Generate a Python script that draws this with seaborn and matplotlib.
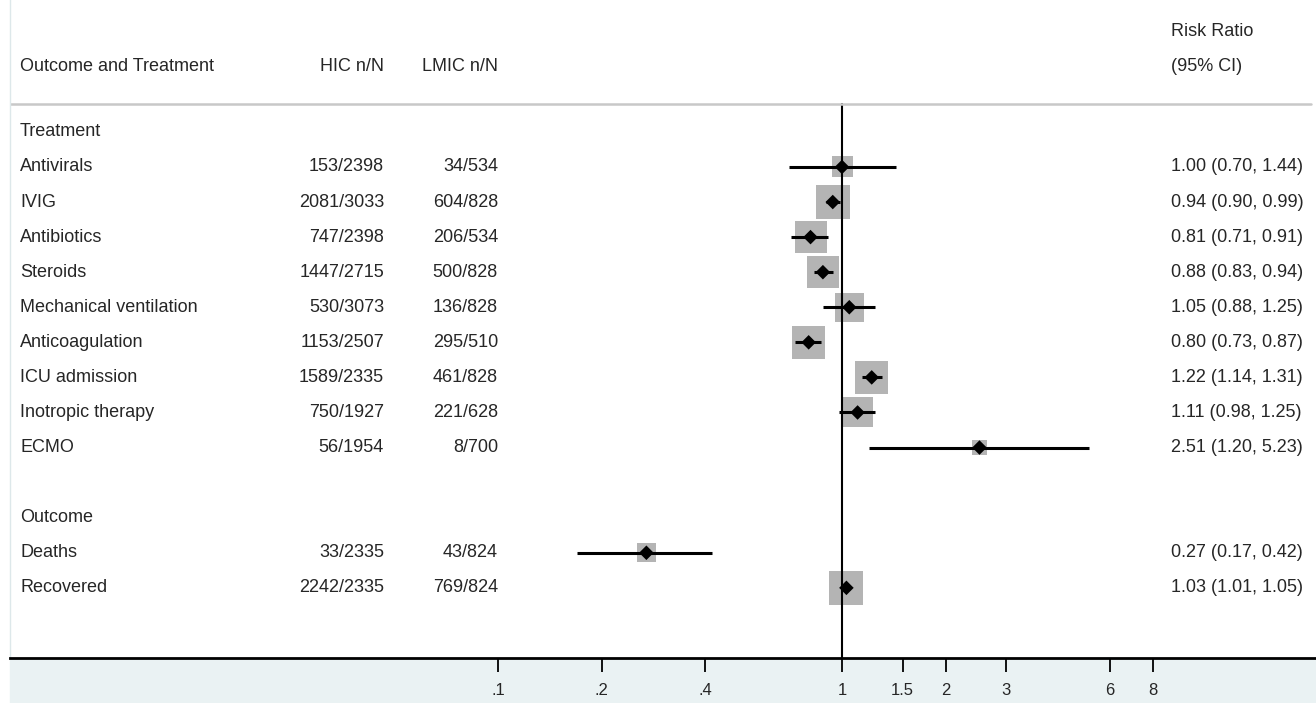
import numpy as np
import pandas as pd
import matplotlib.pyplot as plt
import matplotlib.transforms as mtransforms
import seaborn as sns

sns.set_theme(style="white")
plt.rcParams['font.family'] = ['Liberation Sans', 'DejaVu Sans']

# --- data ---
labels = ["Antivirals", "IVIG", "Antibiotics", "Steroids", "Mechanical ventilation",
          "Anticoagulation", "ICU admission", "Inotropic therapy", "ECMO",
          "Deaths", "Recovered"]
groups = ["Treatment"] * 9 + ["Outcome"] * 2
hic = ["153/2398", "2081/3033", "747/2398", "1447/2715", "530/3073", "1153/2507",
       "1589/2335", "750/1927", "56/1954", "33/2335", "2242/2335"]
lmic = ["34/534", "604/828", "206/534", "500/828", "136/828", "295/510",
        "461/828", "221/628", "8/700", "43/824", "769/824"]
rr = [1.00, 0.94, 0.81, 0.88, 1.05, 0.80, 1.22, 1.11, 2.51, 0.27, 1.03]
lo = [0.70, 0.90, 0.71, 0.83, 0.88, 0.73, 1.14, 0.98, 1.20, 0.17, 1.01]
hi = [1.44, 0.99, 0.91, 0.94, 1.25, 0.87, 1.31, 1.25, 5.23, 0.42, 1.05]
# relative study weight (box side, pixels)
weights = [21, 34, 32, 32, 29, 33, 33, 30, 15, 19, 34]

ticks = [0.1, 0.2, 0.4, 1, 1.5, 2, 3, 6, 8]
tick_labels = [".1", ".2", ".4", "1", "1.5", "2", "3", "6", "8"]

# row layout: group header, then rows; blank row between groups
rows = []
headers = []
k = 0
for g in ["Treatment", "Outcome"]:
    headers.append((g, k))
    k += 1
    for i, gg in enumerate(groups):
        if gg == g:
            rows.append(k)
            k += 1
    k += 1

df = pd.DataFrame({"label": labels, "hic": hic, "lmic": lmic, "rr": rr,
                   "lo": lo, "hi": hi, "w": weights, "row": rows})
df["box"] = (df["w"] * 0.72) ** 2

W, H = 1316, 703
fig = plt.figure(figsize=(W / 100, H / 100), dpi=100)
fig.patch.set_facecolor("white")
# graph region band at the bottom
fig.patches.append(plt.Rectangle((10 / W, 0), 1 - 10 / W, (H - 658) / H,
                                 transform=fig.transFigure, color="#eaf2f3", zorder=-1))
ax = fig.add_axes([10 / W, (H - 658) / H, (W - 10) / W, 658 / H])
ax.set_facecolor("white")

ax.set_xscale("log")
x0 = 10 ** ((10 - 842) / 344)
x1 = 10 ** ((1316 - 842) / 344)
ax.set_xlim(x0, x1)
ax.set_ylim(15, -3.76)

# reference line at 1
ax.plot([1, 1], [-0.8, 15], color="black", lw=1.5, zorder=2)

sns.scatterplot(data=df, x="rr", y="row", size="box", sizes=(df["box"].min(), df["box"].max()),
                marker="s", color="#b4b4b4", edgecolor="none", legend=False, ax=ax, zorder=1)
ax.hlines(df["row"], df["lo"], df["hi"], color="black", lw=2.2, zorder=3)
sns.scatterplot(data=df, x="rr", y="row", marker="D", s=55, color="black",
                edgecolor="none", legend=False, ax=ax, zorder=4)

# header separator
ax.axhline(-0.8, xmin=0, xmax=(1311 - 10) / (W - 10), color="#c8c8c8", lw=1.8, zorder=2)

trans = mtransforms.blended_transform_factory(ax.transAxes, ax.transData)
def fx(px):
    return (px - 10) / (W - 10)

fs = 13
HIC_X, LMIC_X, RR_X = 384, 498, 1171
ax.text(fx(20), -1.85, "Outcome and Treatment", ha="left", va="center", fontsize=fs, transform=trans)
ax.text(fx(HIC_X), -1.85, "HIC n/N", ha="right", va="center", fontsize=fs, transform=trans)
ax.text(fx(LMIC_X), -1.85, "LMIC n/N", ha="right", va="center", fontsize=fs, transform=trans)
ax.text(fx(RR_X), -2.85, "Risk Ratio", ha="left", va="center", fontsize=fs, transform=trans)
ax.text(fx(RR_X), -1.85, "(95% CI)", ha="left", va="center", fontsize=fs, transform=trans)

for name, r in headers:
    ax.text(fx(20), r, name, ha="left", va="center", fontsize=fs, transform=trans)

for _, d in df.iterrows():
    ax.text(fx(20), d["row"], d["label"], ha="left", va="center", fontsize=fs, transform=trans)
    ax.text(fx(HIC_X), d["row"], d["hic"], ha="right", va="center", fontsize=fs, transform=trans)
    ax.text(fx(LMIC_X), d["row"], d["lmic"], ha="right", va="center", fontsize=fs, transform=trans)
    ax.text(fx(RR_X), d["row"], f"{d['rr']:.2f} ({d['lo']:.2f}, {d['hi']:.2f})",
            ha="left", va="center", fontsize=fs, transform=trans)

ax.set_xticks(ticks)
ax.set_xticklabels(tick_labels, fontsize=12)
ax.xaxis.set_minor_locator(plt.NullLocator())
ax.tick_params(axis="x", which="major", length=10, width=1.3, color="black",
               direction="out", pad=8, bottom=True)
ax.set_yticks([])
ax.set_xlabel("")
ax.set_ylabel("")
for s in ["top", "right"]:
    ax.spines[s].set_visible(False)
ax.spines["bottom"].set_color("black")
ax.spines["bottom"].set_linewidth(2)
ax.spines["left"].set_color("#dde8ea")
ax.spines["left"].set_linewidth(1)

fig.savefig("out.png", dpi=100)
